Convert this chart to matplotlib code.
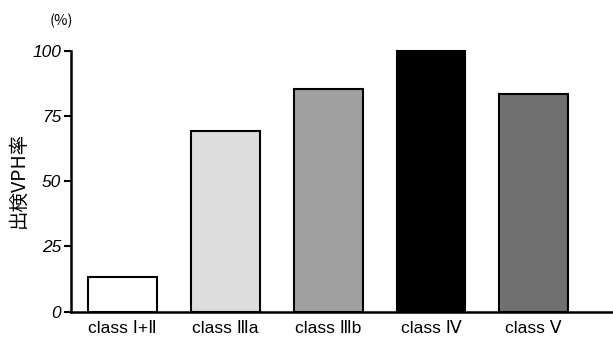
import matplotlib
matplotlib.use("Agg")
import matplotlib.pyplot as plt

categories = ["class Ⅰ+Ⅱ", "class Ⅲa", "class Ⅲb", "class Ⅳ", "class Ⅴ"]
values = [13.2, 69.3, 85.2, 100, 83.3]
colors = ["#ffffff", "#dcdddc", "#a0a0a0", "#000000", "#707070"]
yticks = [0, 25, 50, 75, 100]

fig = plt.figure(figsize=(6.13, 3.43), dpi=100)
ax = fig.add_axes([71/613, 1-311.7/343, 1-71/613, (311.7-50.7)/343])

x = list(range(len(categories)))
ax.bar(x, values, width=0.67, color=colors, edgecolor="black", linewidth=1.5, clip_on=False, zorder=3)
ax.set_xlim(-0.5, 4.77)
ax.set_ylim(0, 100)
ax.set_yticks(yticks)
ax.set_yticklabels([str(t) for t in yticks], fontfamily="Liberation Sans", fontstyle="italic", fontsize=12.5)
ax.set_xticks(x)
ax.set_xticklabels(categories, fontfamily=["Liberation Sans", "DejaVu Sans"], fontsize=12.5)
ax.tick_params(axis="x", length=0, pad=7)
ax.tick_params(axis="y", length=5, width=1.5, pad=2)
for s in ["top", "right"]:
    ax.spines[s].set_visible(False)
for s in ["left", "bottom"]:
    ax.spines[s].set_linewidth(1.8)

fig.text(18/613, 1-180/343, "出検VPH率", rotation=90, ha="center", va="center",
         fontfamily=["Noto Sans CJK JP", "DejaVu Sans"], fontsize=14)
fig.text(61.5/613, 1-20.5/343, "(%)", ha="center", va="center",
         fontfamily=["Noto Sans CJK JP", "DejaVu Sans"], fontsize=10.5)

fig.savefig("out.png", dpi=100)
